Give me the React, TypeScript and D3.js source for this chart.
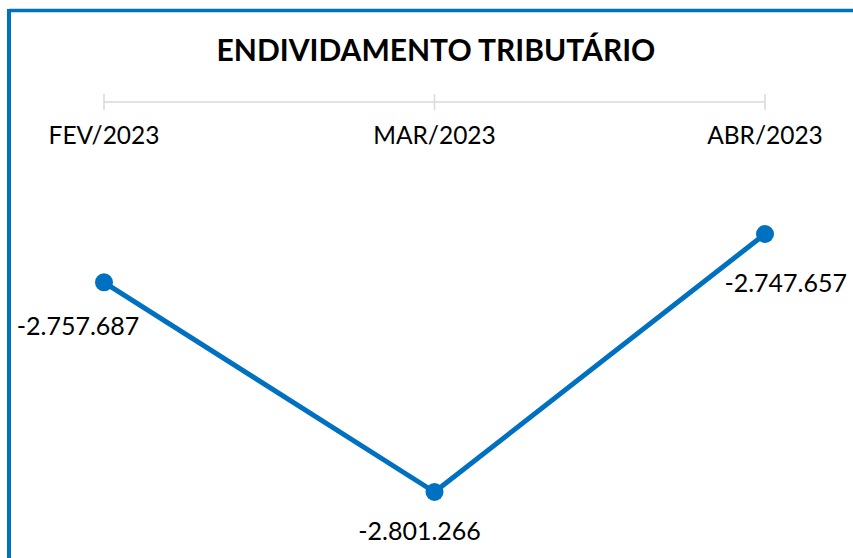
import React from "react";
import * as d3 from "d3";

const categories = ["FEV/2023", "MAR/2023", "ABR/2023"];
const values = [-2757687, -2801266, -2747657];
const valueLabels = ["-2.757.687", "-2.801.266", "-2.747.657"];
const title = "ENDIVIDAMENTO TRIBUTÁRIO";

const W = 853;
const H = 558;
const BLUE = "#0070C0";
const FONT = "Lato, 'Open Sans', sans-serif";

// label placement relative to point: [dx, dy, anchor]
const labelOffsets: [number, number, string][] = [
  [-26, 53, "middle"],
  [-15, 48, "middle"],
  [82, 58, "end"],
];

export default function App() {
  const x = d3.scalePoint<string>().domain(categories).range([104, 765]);
  const y = d3
    .scaleLinear()
    .domain([d3.min(values)!, d3.max(values)!])
    .range([492, 234]);
  const pts = categories.map((c, i) => [x(c)!, y(values[i])] as [number, number]);
  const line = d3.line()(pts)!;
  const axisY = 102;

  return (
    <svg
      width={W}
      height={H}
      style={{ position: "absolute", left: 0, top: 0, background: "#fff" }}
    >
      <rect x={0} y={0} width={W} height={H} fill="#fff" />
      <line x1={9} y1={10.5} x2={W} y2={10.5} stroke={BLUE} strokeWidth={3.5} />
      <line x1={9} y1={9} x2={9} y2={H} stroke={BLUE} strokeWidth={4} />
      <text
        x={436}
        y={61}
        textAnchor="middle"
        fontFamily={FONT}
        fontWeight={700}
        fontSize={30}
        fill="#000"
      >
        {title}
      </text>
      <line x1={x(categories[0])} x2={x(categories[2])} y1={axisY} y2={axisY} stroke="#d9d9d9" strokeWidth={1.5} />
      {categories.map((c) => (
        <g key={c}>
          <line x1={x(c)} x2={x(c)} y1={94} y2={110} stroke="#d9d9d9" strokeWidth={1.5} />
          <text
            x={x(c)}
            y={144}
            textAnchor="middle"
            fontFamily={FONT}
            fontSize={24.5}
            fill="#000"
          >
            {c}
          </text>
        </g>
      ))}
      <path d={line} fill="none" stroke={BLUE} strokeWidth={5} strokeLinejoin="round" />
      {pts.map((p, i) => (
        <g key={i}>
          <circle cx={p[0]} cy={p[1]} r={9} fill={BLUE} />
          <text
            x={p[0] + labelOffsets[i][0]}
            y={p[1] + labelOffsets[i][1]}
            textAnchor={labelOffsets[i][2] as any}
            fontFamily={FONT}
            fontSize={25}
            fill="#000"
          >
            {valueLabels[i]}
          </text>
        </g>
      ))}
    </svg>
  );
}
